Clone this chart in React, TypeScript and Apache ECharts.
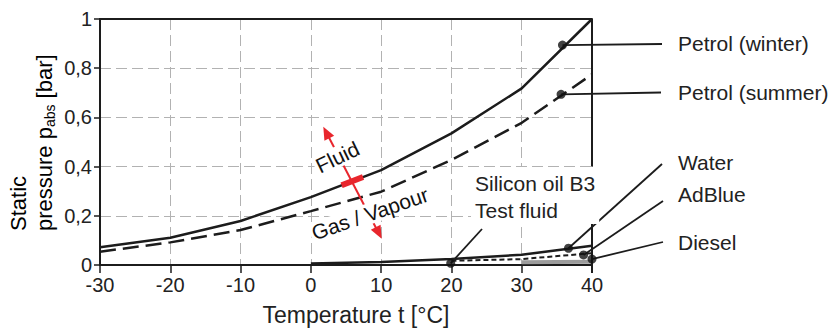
import React, { useEffect, useRef } from "react";
import * as echarts from "echarts";

// ---- data ----
const temps = [-30, -20, -10, 0, 10, 20, 30, 40];
const petrolWinter = [0.072, 0.111, 0.179, 0.276, 0.386, 0.535, 0.718, 1.0];
const petrolSummer = [0.054, 0.092, 0.142, 0.219, 0.298, 0.427, 0.578, 0.775];
const waterTemps = [0, 10, 20, 30, 40];
const water = [0.006, 0.012, 0.024, 0.042, 0.078];
const adBlueTemps = [20, 30, 40];
const adBlue = [0.017, 0.024, 0.048];
const dieselTemps = [30, 40];
const diesel = [0.011, 0.013];
const xMin = -30, xMax = 40, xStep = 10;
const yMin = 0, yMax = 1, yStep = 0.2;

// marker dots (data coords) and their labels
const markerNames = ["Petrol (winter)", "Petrol (summer)", "Water", "AdBlue", "Diesel", "Silicon oil B3\nTest fluid"];
const markerT = [35.8, 35.6, 36.65, 38.8, 40, 19.9];
const markerP = [0.894, 0.694, 0.068, 0.041, 0.024, 0.007];

// ---- layout (pixels) ----
const FONT = '"Liberation Sans", Arial, Helvetica, sans-serif';
const INK = "#1c1c1c";
const RED = "#e8262d";
const labelX = 678;
const labelY = [43, 92, 162, 194, 242];
const leaderEnd: [number, number][] = [[662, 44], [661, 92.5], [662, 164], [663, 201], [663, 242], [482, 229]];

const zip = (xs: number[], ys: number[]) => xs.map((x, i) => [x, ys[i]]);

export default function App() {
  const ref = useRef<HTMLDivElement>(null);
  useEffect(() => {
    if (!ref.current) return;
    const chart = echarts.init(ref.current, null, { renderer: "svg" });
    const splitLine = { show: true, lineStyle: { color: "#b2b2b2", width: 1, type: [11, 5] as any } };
    const option: any = {
      animation: false,
      backgroundColor: "#fff",
      grid: { left: 100, right: 244, top: 19, bottom: 63, containLabel: false },
      xAxis: [
        {
          type: "value", min: xMin, max: xMax, interval: xStep, position: "bottom",
          axisLine: { show: true, onZero: false, lineStyle: { color: INK, width: 2 } },
          axisTick: { show: true, inside: false, length: 8, lineStyle: { color: INK, width: 1.5 } },
          axisLabel: { fontSize: 20, color: "#222", margin: 10, fontFamily: FONT },
          splitLine,
        },
        {
          type: "value", min: xMin, max: xMax, interval: xStep, position: "top",
          axisLine: { show: true, onZero: false, lineStyle: { color: INK, width: 2 } },
          axisTick: { show: false }, axisLabel: { show: false }, splitLine: { show: false },
        },
      ],
      yAxis: {
        type: "value", min: yMin, max: yMax, interval: yStep,
        axisLine: { show: true, onZero: false, lineStyle: { color: INK, width: 2 } },
        axisTick: { show: true, inside: false, length: 6, lineStyle: { color: INK, width: 1.5 } },
        axisLabel: {
          fontSize: 20, color: "#222", margin: 8, fontFamily: FONT,
          formatter: (v: number) => String(Math.round(v * 10) / 10).replace(".", ","),
        },
        splitLine,
      },
      series: [
        { name: "Petrol (winter)", type: "line", data: zip(temps, petrolWinter), showSymbol: false, symbol: "none", lineStyle: { color: INK, width: 2.5 }, z: 3 },
        { name: "Petrol (summer)", type: "line", data: zip(temps, petrolSummer), showSymbol: false, symbol: "none", lineStyle: { color: INK, width: 2.5, type: [16, 7] }, z: 3 },
        { name: "Diesel", type: "line", data: zip(dieselTemps, diesel), showSymbol: false, symbol: "none", lineStyle: { color: "#9c9c9c", width: 4 }, z: 2 },
        { name: "AdBlue", type: "line", data: zip(adBlueTemps, adBlue), showSymbol: false, symbol: "none", lineStyle: { color: INK, width: 2, type: [5, 3] }, z: 3 },
        { name: "Water", type: "line", data: zip(waterTemps, water), showSymbol: false, symbol: "none", lineStyle: { color: INK, width: 2.5 }, z: 3 },
        { name: "markers", type: "scatter", data: zip(markerT, markerP), symbol: "circle", symbolSize: 9, itemStyle: { color: "#111" }, z: 8, clip: false },
      ],
    };
    chart.setOption(option);

    const px = (t: number, p: number) => chart.convertToPixel({ gridIndex: 0 } as any, [t, p]) as number[];
    const g: any[] = [];
    // right border (interrupted)
    const rTop = px(xMax, yMax), rMid = px(xMax, 0.4), rLow = px(xMax, 0.175), rBot = px(xMax, 0);
    g.push({ type: "line", z: 4, shape: { x1: rTop[0], y1: rTop[1], x2: rMid[0], y2: rMid[1] }, style: { stroke: INK, lineWidth: 2 } });
    g.push({ type: "line", z: 4, shape: { x1: rLow[0], y1: rLow[1], x2: rBot[0], y2: rBot[1] + 8 }, style: { stroke: INK, lineWidth: 2 } });

    // leaders
    markerT.forEach((t, i) => {
      const a = px(t, markerP[i]);
      const e = leaderEnd[i];
      g.push({ type: "line", z: 5, shape: { x1: a[0], y1: a[1], x2: e[0], y2: e[1] }, style: { stroke: INK, lineWidth: 1.8 } });
    });
    // labels
    labelY.forEach((y, i) => {
      g.push({ type: "text", z: 6, x: labelX, y, style: { text: markerNames[i], font: `21px ${FONT}`, fill: "#222", align: "left", verticalAlign: "middle" } });
    });
    g.push({
      type: "text", z: 6, x: 471, y: 167,
      style: { text: markerNames[5], font: `21px ${FONT}`, lineHeight: 27, fill: "#222", align: "left", verticalAlign: "top", backgroundColor: "#fff", padding: [3, 4, 0, 4] },
    });

    // fluid / gas arrow
    const tipTop = [323.3, 126.7], tipBot = [381.7, 238.8];
    const dx = tipBot[0] - tipTop[0], dy = tipBot[1] - tipTop[1];
    const len = Math.hypot(dx, dy);
    const ux = dx / len, uy = dy / len, nx = -uy, ny = ux;
    const L = 13, W = 5.5;
    const head = (tip: number[], s: number) => {
      const bx = tip[0] - s * ux * L, by = tip[1] - s * uy * L;
      return [[tip[0], tip[1]], [bx + nx * W, by + ny * W], [bx - nx * W, by - ny * W]];
    };
    g.push({ type: "line", z: 5, shape: { x1: tipTop[0] + ux * 10, y1: tipTop[1] + uy * 10, x2: tipBot[0] - ux * 10, y2: tipBot[1] - uy * 10 }, style: { stroke: RED, lineWidth: 2 } });
    g.push({ type: "polygon", z: 5, shape: { points: head(tipTop, -1) }, style: { fill: RED } });
    g.push({ type: "polygon", z: 5, shape: { points: head(tipBot, 1) }, style: { fill: RED } });
    // red bar on the winter curve
    const b0 = px(0, petrolWinter[3]), b1 = px(10, petrolWinter[4]);
    const tx = b1[0] - b0[0], ty = b1[1] - b0[1], tl = Math.hypot(tx, ty);
    const barT = 5.9;
    const bc = px(barT, petrolWinter[3] + (petrolWinter[4] - petrolWinter[3]) * (barT / 10));
    g.push({ type: "line", z: 9, shape: { x1: bc[0] - (tx / tl) * 11.5, y1: bc[1] - (ty / tl) * 11.5, x2: bc[0] + (tx / tl) * 11.5, y2: bc[1] + (ty / tl) * 11.5 }, style: { stroke: RED, lineWidth: 6 } });

    g.push({ type: "text", z: 7, x: 337.5, y: 157, rotation: (26 * Math.PI) / 180, style: { text: "Fluid", font: `21px ${FONT}`, fill: "#111", align: "center", verticalAlign: "middle", backgroundColor: "#fff", padding: [0, 2] } });
    g.push({ type: "text", z: 7, x: 370, y: 213.5, rotation: (19 * Math.PI) / 180, style: { text: "Gas / Vapour", font: `21px ${FONT}`, fill: "#111", align: "center", verticalAlign: "middle", backgroundColor: "#fff", padding: [0, 2] } });

    // axis names
    g.push({ type: "text", z: 6, x: 356, y: 315, style: { text: "Temperature t [°C]", font: `23px ${FONT}`, fill: "#222", align: "center", verticalAlign: "middle" } });
    g.push({
      type: "text", z: 6, x: 5, y: 231, rotation: Math.PI / 2,
      style: {
        text: "{a|Static}\n{a|pressure p}{s|abs}{a| [bar]}",
        align: "left", verticalAlign: "top",
        rich: {
          a: { fontSize: 22, fontFamily: FONT, color: "#222", lineHeight: 26 },
          s: { fontSize: 14, fontFamily: FONT, color: "#222", lineHeight: 11, verticalAlign: "bottom" },
        },
      },
    });

    chart.setOption({ graphic: g });
    return () => chart.dispose();
  }, []);
  return <div ref={ref} style={{ position: "fixed", left: 0, top: 0, width: 836, height: 328, background: "#fff" }} />;
}
